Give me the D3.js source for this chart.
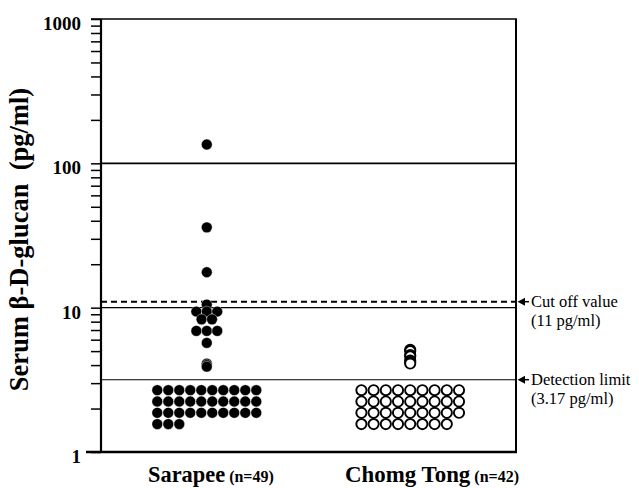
<!DOCTYPE html>
<html><head><meta charset="utf-8">
<script src="https://cdn.jsdelivr.net/npm/d3@7"></script>
<style>body{margin:0;background:#fff}svg{display:block}</style>
</head><body>
<script>
// ---- data ----
const categories = ["Sarapee", "Chomg Tong"];
const nLabels = ["(n=49)", "(n=42)"];
const sarapeeAbove = [135, 36, 17.6, 10.5, 9.4, 9.4, 9.4, 8.3, 8.3, 6.9, 6.9, 6.9, 5.7, 4.1, 4.0, 3.9];
const sarapeeBelowCount = 33;
const chomgAbove = [5.1, 5.0, 4.7, 4.6, 4.3, 4.2, 4.1];
const chomgBelowCount = 35;
const yTickValues = [1, 10, 100, 1000];
const gridLineValues = [10, 100];
const cutOffValue = 11;
const detectionLimit = 3.17;
const annotations = [
  {value: cutOffValue, lines: ["Cut off value", "(11 pg/ml)"]},
  {value: detectionLimit, lines: ["Detection limit", "(3.17 pg/ml)"]}
];

// ---- styles ----
const W = 639, H = 488;
const L = 101, R = 516, T = 19, B = 452;
const serif = "'Liberation Serif', 'Times New Roman', serif";
const seriesStyle = [
  {filled: true, cols: 10, colStep: 11, rowStep: 11.3, r: 5.4, labelX: 148, catSize: 22.4},
  {filled: false, cols: 9, colStep: 12.2, rowStep: 11.3, r: 5.1, labelX: 345, catSize: 22.9}
];

const svg = d3.select("body").append("svg").attr("width", W).attr("height", H);

const y = d3.scaleLog().domain([1, 1000]).range([B, T]);
const x = d3.scalePoint().domain(categories).range([L, R]).padding(0.52);

// gridlines
svg.selectAll(".grid").data(gridLineValues).join("line")
  .attr("x1", L).attr("x2", R).attr("y1", d => y(d)).attr("y2", d => y(d))
  .attr("stroke", "#000").attr("stroke-width", d => d === 100 ? 1.8 : 1.2);

// detection line
svg.append("line").attr("x1", L).attr("x2", R)
  .attr("y1", y(detectionLimit)).attr("y2", y(detectionLimit))
  .attr("stroke", "#000").attr("stroke-width", 1.1);
// cut off dashed
svg.append("line").attr("x1", L).attr("x2", R)
  .attr("y1", y(cutOffValue)).attr("y2", y(cutOffValue))
  .attr("stroke", "#000").attr("stroke-width", 2).attr("stroke-dasharray", "6,4");

// frame
svg.append("line").attr("x1", L - 10).attr("x2", R + 1).attr("y1", T).attr("y2", T)
  .attr("stroke", "#000").attr("stroke-width", 1.6);
svg.append("line").attr("x1", R).attr("x2", R).attr("y1", T).attr("y2", B)
  .attr("stroke", "#000").attr("stroke-width", 2);
svg.append("line").attr("x1", L - 15).attr("x2", R + 1).attr("y1", B).attr("y2", B)
  .attr("stroke", "#000").attr("stroke-width", 2.6);

// y axis
const minorTicks = [];
[1, 10, 100].forEach(dec => { for (let k = 2; k <= 9; k++) minorTicks.push(dec * k); });
const yAxis = d3.axisLeft(y).tickValues(yTickValues.concat(minorTicks))
  .tickSize(10).tickPadding(10)
  .tickFormat(d => yTickValues.includes(d) ? String(d) : "");
const gy = svg.append("g").attr("transform", `translate(${L},0)`).call(yAxis);
gy.select(".domain").attr("stroke-width", 2.2).attr("d", `M-0,${B}V${T}`);
gy.selectAll(".tick line").attr("stroke-width", 1.5);
gy.selectAll(".tick text").attr("font-family", serif).attr("font-size", 19)
  .attr("font-weight", "bold").attr("dy", "0.55em").attr("fill", "#000");

// y label
svg.append("text").attr("transform", `translate(28,${(T + B) / 2 + 4}) rotate(-90)`)
  .attr("text-anchor", "middle").attr("font-family", serif).attr("font-weight", "bold")
  .attr("font-size", 26.5).attr("xml:space", "preserve")
  .text("Serum β-D-glucan  (pg/ml)");

// points
const aboveSets = [sarapeeAbove, chomgAbove];
const belowCounts = [sarapeeBelowCount, chomgBelowCount];
categories.forEach((cat, i) => {
  const st = seriesStyle[i];
  const cx = x(cat);
  const groups = d3.groups(aboveSets[i], d => d);
  const pts = [];
  groups.forEach(([v, arr]) => arr.forEach((d, j) => pts.push({
    v: d, px: cx + (j - (arr.length - 1) / 2) * st.colStep * 0.95
  })));
  const gridTop = y(detectionLimit) + 10.5;
  const gridLeft = cx - (st.cols - 1) / 2 * st.colStep;
  const grid = d3.range(belowCounts[i]).map(k => ({
    px: gridLeft + (k % st.cols) * st.colStep,
    py: gridTop + Math.floor(k / st.cols) * st.rowStep
  }));
  const g = svg.append("g");
  const sty = sel => st.filled
    ? sel.attr("fill", "#000").attr("stroke", "#fff").attr("stroke-width", 0.4)
    : sel.attr("fill", "#fff").attr("stroke", "#000").attr("stroke-width", 1.9);
  g.selectAll(".a").data(pts).join("circle")
    .attr("cx", d => d.px).attr("cy", d => y(d.v)).attr("r", st.r).call(sty);
  g.selectAll(".b").data(grid).join("circle")
    .attr("cx", d => d.px).attr("cy", d => d.py).attr("r", st.r).call(sty);

  const t = svg.append("text").attr("x", st.labelX).attr("y", 482)
    .attr("font-family", serif).attr("font-weight", "bold").attr("fill", "#000");
  t.append("tspan").attr("font-size", st.catSize).text(cat);
  t.append("tspan").attr("font-size", 16).attr("dx", 4).text(nLabels[i]);
});

// annotations with arrows
annotations.forEach(a => {
  const yy = y(a.value);
  svg.append("path")
    .attr("d", `M${R + 1.5},${yy} L${R + 9},${yy - 4} L${R + 9},${yy + 4} Z`)
    .attr("fill", "#000");
  svg.append("line").attr("x1", R + 8).attr("x2", R + 13).attr("y1", yy).attr("y2", yy)
    .attr("stroke", "#000").attr("stroke-width", 1.5);
  a.lines.forEach((ln, k) => svg.append("text").attr("font-family", serif)
    .attr("font-size", 16.5).attr("fill", "#000")
    .attr("x", R + 15).attr("y", yy + 5 + k * 19).text(ln));
});
</script>
</body></html>
